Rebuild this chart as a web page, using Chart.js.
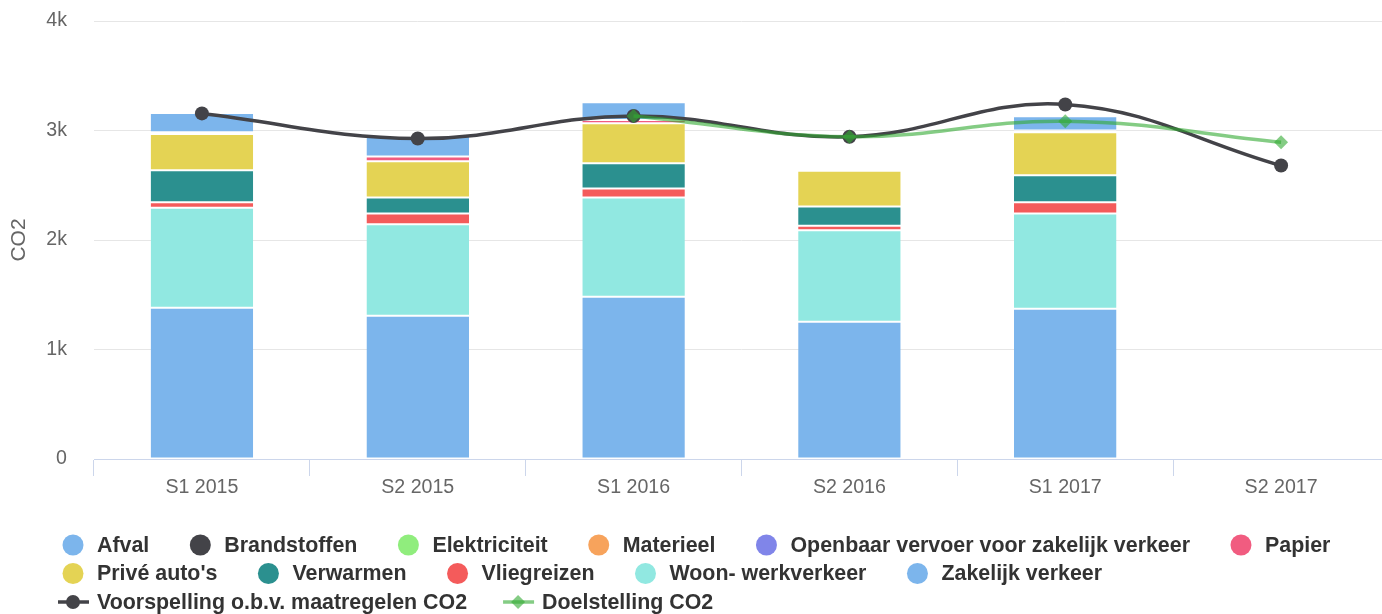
<!DOCTYPE html>
<html>
<head>
<meta charset="utf-8">
<script src="https://cdn.jsdelivr.net/npm/chart.js@4/dist/chart.umd.min.js"></script>
<style>
  html, body { margin: 0; padding: 0; background: #fff; overflow: hidden; }
  #wrap { width: 1396px; height: 614px; }
</style>
</head>
<body>
<div id="wrap"><canvas id="myChart" width="1396" height="614"></canvas></div>
<script>
// periodes
const labels = ['S1 2015', 'S2 2015', 'S1 2016', 'S2 2016', 'S1 2017', 'S2 2017'];
const yTicks = [0, 1000, 2000, 3000, 4000];

const afval        = [177, 188, 163, null, 131, null];
const brandstoffen = [null, null, null, null, null, null];
const elektriciteit = [null, null, null, null, null, null];
const materieel    = [null, null, null, null, null, null];
const openbaarVervoer = [null, null, null, null, null, null];
const papier       = [15, 43, 29, null, 15, null];
const priveAutos   = [332, 330, 364, 326, 393, null];
const verwarmen    = [292, 146, 231, 176, 247, null];
const vliegreizen  = [50, 100, 82, 41, 101, null];
const woonWerk     = [913, 835, 907, 837, 871, null];
const zakelijk     = [1381, 1308, 1482, 1253, 1372, null];

const voorspelling = [3156, 2927, 3133, 2943, 3238, 2680];
const doelstelling = [null, null, 3133, 2943, 3085, 2893];

const font = '"Liberation Sans", Arial, Helvetica, sans-serif';
Chart.defaults.font.family = font;

function bar(label, data, color, order) {
    return {
        type: 'bar',
        label: label,
        data: data,
        backgroundColor: color,
        borderColor: '#ffffff',
        borderWidth: { top: 1, bottom: 1, left: 0, right: 0 },
        borderSkipped: false,
        stack: 'co2',
        order: order,
        categoryPercentage: 1,
        barPercentage: 0.475
    };
}

// legenda zoals highcharts: rijen links uitgelijnd
const legendPlugin = {
    id: 'co2Legend',
    afterDraw(chart) {
        const ctx = chart.ctx;
        const startX = 58;
        let x = startX, y = 545;
        ctx.save();
        ctx.font = 'bold 21.4px ' + font;
        ctx.textBaseline = 'middle';
        chart.data.datasets.forEach(function(ds) {
            const w = 30 + 9 + ctx.measureText(ds.label).width;
            if (x > startX && x + w > 1380) {
                x = startX;
                y += 28.5;
            }
            const cx = x + 15;
            if (ds.type === 'line') {
                ctx.strokeStyle = ds.borderColor;
                ctx.lineWidth = 3.5;
                ctx.beginPath();
                ctx.moveTo(x, y);
                ctx.lineTo(x + 31, y);
                ctx.stroke();
                ctx.fillStyle = ds.pointBackgroundColor;
                ctx.beginPath();
                if (ds.pointStyle === 'rectRot') {
                    ctx.moveTo(cx - 7, y);
                    ctx.lineTo(cx, y - 7);
                    ctx.lineTo(cx + 7, y);
                    ctx.lineTo(cx, y + 7);
                    ctx.closePath();
                } else {
                    ctx.arc(cx, y, 7, 0, Math.PI * 2);
                }
                ctx.fill();
            } else {
                ctx.fillStyle = ds.backgroundColor;
                ctx.beginPath();
                ctx.arc(cx, y, 10.5, 0, Math.PI * 2);
                ctx.fill();
            }
            ctx.fillStyle = '#333333';
            ctx.fillText(ds.label, x + 39, y + 1);
            x += w + 36;
        });
        ctx.restore();
    }
};

let ctx = document.getElementById('myChart');

let myChart = new Chart(ctx, {
    data: {
        labels: labels,
        datasets: [
            bar('Afval', afval, '#7cb5ec', 12),
            bar('Brandstoffen', brandstoffen, '#434348', 11),
            bar('Elektriciteit', elektriciteit, '#90ed7d', 10),
            bar('Materieel', materieel, '#f7a35c', 9),
            bar('Openbaar vervoer voor zakelijk verkeer', openbaarVervoer, '#8085e9', 8),
            bar('Papier', papier, '#f15c80', 7),
            bar("Privé auto's", priveAutos, '#e4d354', 6),
            bar('Verwarmen', verwarmen, '#2b908f', 5),
            bar('Vliegreizen', vliegreizen, '#f45b5b', 4),
            bar('Woon- werkverkeer', woonWerk, '#91e8e1', 3),
            bar('Zakelijk verkeer', zakelijk, '#7cb5ec', 2),
            {
                type: 'line',
                label: 'Voorspelling o.b.v. maatregelen CO2',
                data: voorspelling,
                borderColor: '#434348',
                backgroundColor: '#434348',
                pointBackgroundColor: '#434348',
                borderWidth: 3.5,
                tension: 0.4,
                pointRadius: 7,
                pointHoverRadius: 7,
                pointBorderWidth: 0,
                pointStyle: 'circle',
                fill: false,
                stack: 'lijn1',
                order: 1
            },
            {
                type: 'line',
                label: 'Doelstelling CO2',
                data: doelstelling,
                borderColor: 'rgba(50, 170, 50, 0.6)',
                backgroundColor: 'rgba(50, 170, 50, 0.6)',
                pointBackgroundColor: 'rgba(50, 170, 50, 0.6)',
                borderWidth: 3.5,
                tension: 0.4,
                pointRadius: 7,
                pointHoverRadius: 7,
                pointBorderWidth: 0,
                pointStyle: 'rectRot',
                fill: false,
                stack: 'lijn2',
                order: 0
            }
        ]
    },
    options: {
        responsive: false,
        animation: false,
        layout: {
            padding: { top: 21, right: 6, bottom: 110, left: 0 }
        },
        plugins: {
            legend: { display: false },
            tooltip: { enabled: false }
        },
        scales: {
            x: {
                stacked: true,
                offset: true,
                grid: {
                    display: true,
                    offset: true,
                    drawOnChartArea: false,
                    drawTicks: true,
                    tickLength: 17,
                    color: '#ccd6eb'
                },
                border: { display: true, color: '#ccd6eb', width: 1 },
                ticks: {
                    color: '#666666',
                    padding: 0,
                    font: { size: 19.6 }
                },
                afterFit: function(scale) { scale.height = 45; }
            },
            y: {
                stacked: true,
                min: 0,
                max: 4000,
                afterBuildTicks: function(scale) {
                    scale.ticks = yTicks.map(v => ({ value: v }));
                },
                grid: {
                    color: '#e6e6e6',
                    drawTicks: false
                },
                border: { display: false },
                ticks: {
                    color: '#666666',
                    padding: 27,
                    font: { size: 19.6 },
                    callback: function(v) { return v === 0 ? '0' : (v / 1000) + 'k'; }
                },
                title: {
                    display: true,
                    text: 'CO2',
                    color: '#666666',
                    font: { size: 21 },
                    padding: { top: 7, bottom: 0 }
                },
                afterFit: function(scale) {
                    scale.width = 94;
                    scale.paddingTop = 0;
                    scale.paddingBottom = 0;
                }
            }
        }
    },
    plugins: [legendPlugin]
});
</script>
</body>
</html>
